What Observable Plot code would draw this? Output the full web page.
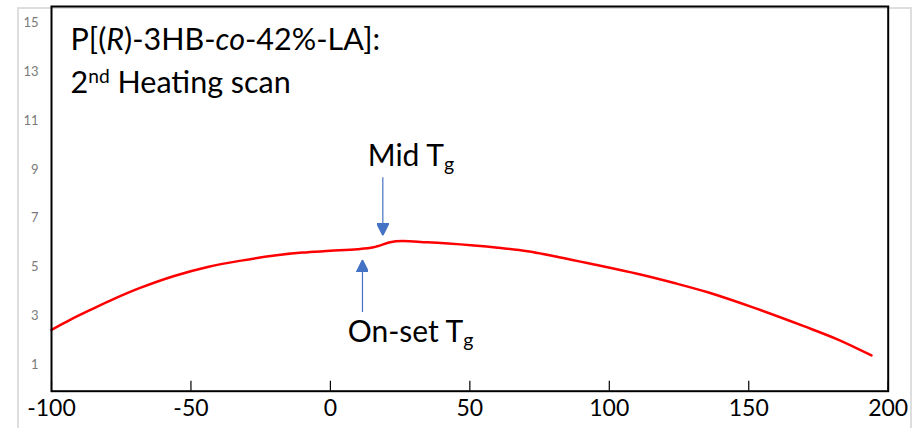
<!DOCTYPE html>
<html><head><meta charset="utf-8">
<script src="https://cdn.jsdelivr.net/npm/d3@7"></script>
<script src="https://cdn.jsdelivr.net/npm/@observablehq/plot@0.6"></script>
<style>
html,body{margin:0;padding:0;background:#fff;}
#wrap{position:relative;width:922px;height:428px;overflow:hidden;}
#outer{position:absolute;left:17px;top:7px;width:891px;height:440px;border:2px solid #dedede;border-bottom:none;}
#chart{position:absolute;left:0;top:0;}
</style></head><body>
<div id="wrap"><div id="outer"></div><div id="chart"></div></div>
<script>
// ---- data ----
const temperature = [-100, -93, -86, -77, -68, -56, -44, -32, -20, -10, 0, 9.7, 15.5, 23.4, 34.8, 51.5, 60, 70.7, 82, 94.6, 110, 123.3, 135.3, 152, 170, 182, 194];
const heatFlow    = [2.42, 2.85, 3.24, 3.72, 4.15, 4.63, 5.00, 5.26, 5.47, 5.59, 5.66, 5.73, 5.81, 6.05, 6.01, 5.88, 5.79, 5.64, 5.40, 5.10, 4.72, 4.34, 3.96, 3.32, 2.56, 2.02, 1.37];
const xTicks = [-100, -50, 0, 50, 100, 150, 200];
const yTicks = [1, 3, 5, 7, 9, 11, 13, 15];
const titleLine1 = "P[(*R*)-3HB-*co*-42%-LA]:";
const titleLine2 = "2^nd^ Heating scan";
const arrowX    = [18.8, 11.5];   // Mid Tg, On-set Tg
const arrowFrom = [8.68, 3.15];
const arrowTo   = [6.29, 5.29];
const noteText  = ["Mid T_g_", "On-set T_g_"];
const noteX     = [13.4, 6.2];
const noteY     = [9.55, 2.33];

const svgNS = "http://www.w3.org/2000/svg";
function triangleMarker(color, context) {
  const doc = (context && context.document) || document;
  const m = doc.createElementNS(svgNS, "marker");
  m.setAttribute("viewBox", "-12 -6 12 12");
  m.setAttribute("markerWidth", 12);
  m.setAttribute("markerHeight", 12);
  m.setAttribute("markerUnits", "userSpaceOnUse");
  m.setAttribute("orient", "auto");
  const p = doc.createElementNS(svgNS, "path");
  p.setAttribute("d", "M-12,-6L0,0L-12,6Z");
  p.setAttribute("fill", color);
  m.appendChild(p);
  return m;
}

const chart = Plot.plot({
  width: 922, height: 428,
  marginLeft: 51, marginRight: 34.3, marginTop: 6, marginBottom: 37.3,
  x: {domain: [-100, 200]},
  y: {domain: [-0.095, 15.68]},
  style: {fontFamily: "Lato, sans-serif", background: "transparent", color: "#000"},
  marks: [
    Plot.axisY({ticks: yTicks, tickSize: 0, tickPadding: 13, fontSize: 13, fill: "#7a7a7a", label: null}),
    Plot.axisX({ticks: xTicks, tickSize: 0, tickPadding: 8.5, fontSize: 23, fill: "#000", label: null, tickFormat: d => String(d)}),
    Plot.tickX(xTicks, {x: d => d, stroke: "#000", strokeWidth: 1.2, insetTop: 374.7}),
    Plot.line(heatFlow, {x: temperature, y: heatFlow, stroke: "#ff0000", strokeWidth: 2.5, curve: "catmull-rom"}),
    Plot.link(arrowX, {x1: arrowX, x2: arrowX, y1: arrowFrom, y2: arrowTo, stroke: "#4472c4", strokeWidth: 1.2, markerEnd: triangleMarker}),
    Plot.text(noteText, {x: noteX, y: noteY, text: d => d, textAnchor: "start", lineAnchor: "middle", fontSize: 30, fill: "#000"}),
    Plot.text([titleLine1], {frameAnchor: "top-left", text: d => d, dx: 19, dy: 22.2, textAnchor: "start", lineAnchor: "top", fontSize: 30.5, fill: "#000"}),
    Plot.text([titleLine2], {frameAnchor: "top-left", text: d => d, dx: 19, dy: 65.2, textAnchor: "start", lineAnchor: "top", fontSize: 30.5, fill: "#000"}),
    Plot.frame({stroke: "#000", strokeWidth: 2})
  ]
});

// rich text: *italic*, ^superscript^, _subscript_
function rich(el) {
  const s = el.textContent;
  if (!/[*^_]/.test(s)) return;
  const fs = parseFloat(el.getAttribute("font-size") || el.parentNode.getAttribute("font-size") || 30);
  el.textContent = "";
  let shift = 0;
  for (const part of s.split(/(\*[^*]+\*|\^[^^]+\^|_[^_]+_)/g)) {
    if (!part) continue;
    const t = document.createElementNS(svgNS, "tspan");
    let want = 0;
    if (part[0] === "*") { t.textContent = part.slice(1, -1); t.setAttribute("font-style", "italic"); }
    else if (part[0] === "^") { t.textContent = part.slice(1, -1); t.setAttribute("font-size", fs * 0.63); want = -fs * 0.34; }
    else if (part[0] === "_") { t.textContent = part.slice(1, -1); t.setAttribute("font-size", fs * 0.65); want = fs * 0.18; }
    else t.textContent = part;
    if (want !== shift) { t.setAttribute("dy", want - shift); shift = want; }
    el.appendChild(t);
  }
}
chart.querySelectorAll("text").forEach(rich);
document.getElementById("chart").appendChild(chart);
</script>
</body></html>
